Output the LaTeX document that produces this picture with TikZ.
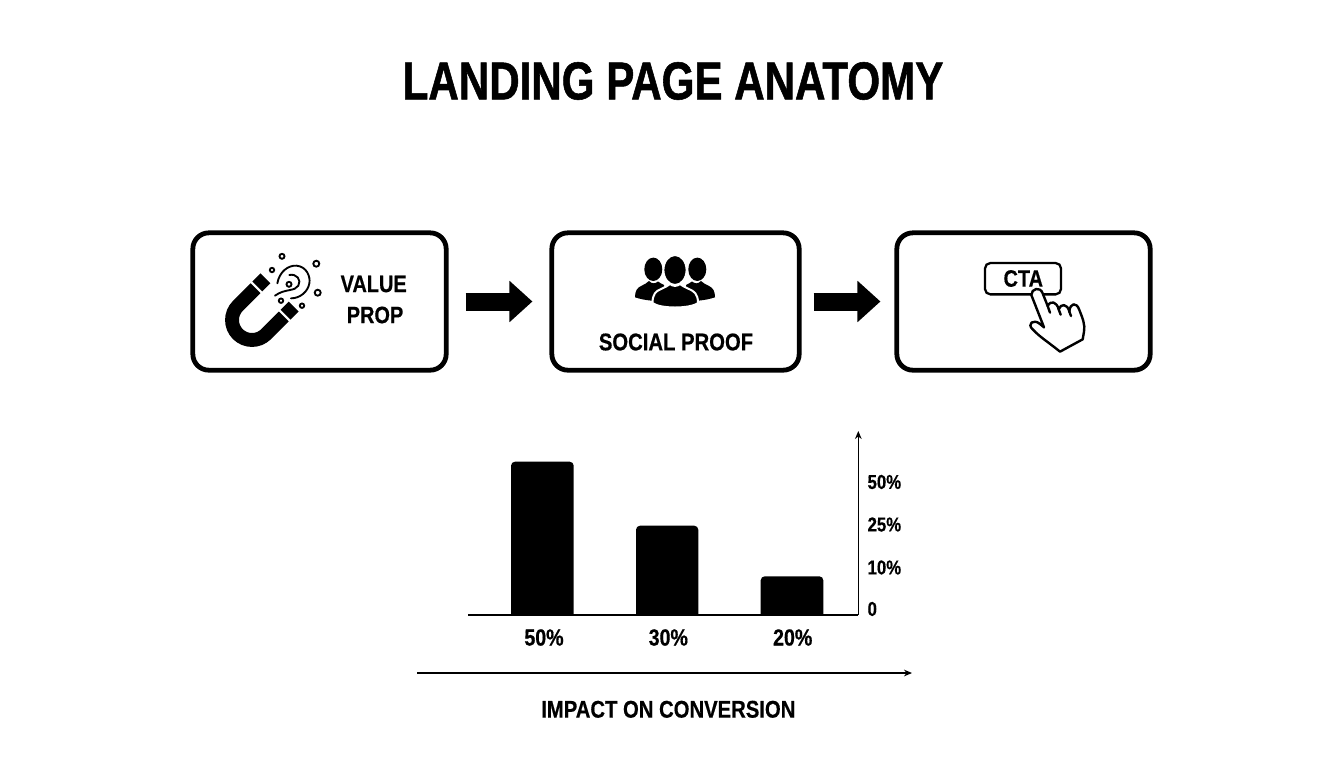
\documentclass[tikz,border=0pt]{standalone}
\usepackage{fontspec}
\setmainfont{Liberation Sans}[FakeStretch=0.84,BoldFeatures={FakeBold=0.5}]
\newfontfamily\titlefont{Liberation Sans Bold}[FakeStretch=0.79,FakeBold=1]
\usetikzlibrary{arrows.meta}
\tikzset{
  panel/.style={draw=black,fill=white,line width=3.6pt,rounded corners=12pt,minimum height=103pt,inner sep=0pt},
  blockarrow/.style={line width=13.5pt,-{Triangle[length=17.25pt,width=30pt]},shorten >=0pt},
  lbl/.style={inner sep=0pt,font=\bfseries\fontsize{17.8}{20}\selectfont},
  widelbl/.style={inner sep=0pt,font=\bfseries\fontsize{18.1}{21}\selectfont},
  ticklbl/.style={inner sep=0pt,anchor=west,font=\bfseries\fontsize{15}{17}\selectfont},
  barlbl/.style={inner sep=0pt,font=\bfseries\fontsize{17.5}{20}\selectfont},
  axisline/.style={line width=1.1pt,-{Stealth[length=6pt,width=5pt]}},
  icon/.style={line width=1.4pt,draw=black},
  dot/.style={line width=1.4pt,draw=black,fill=white},
}
\begin{document}
\begin{tikzpicture}[x=0.75pt,y=-0.75pt]
\useasboundingbox (0,0) rectangle (1344,768);
\fill[white] (0,0) rectangle (1344,768);
% title
\node[inner sep=0pt,font=\titlefont\fontsize{40}{44}\selectfont] (title) at (673,81) {LANDING PAGE ANATOMY};
% panels
\node[panel,minimum width=190pt] (vp) at (319.5,301.5) {};
\node[panel,minimum width=185.5pt] (sp) at (675.5,301.5) {};
\node[panel,minimum width=190pt] (cta) at (1023.5,301.5) {};
% connectors
\draw[blockarrow] ([xshift=12.75pt]vp.east) -- ([xshift=-12.75pt]sp.west);
\draw[blockarrow] ([xshift=9pt]sp.east) -- ([xshift=-10.5pt]cta.west);
% value prop text
\node[lbl] (vpa) at (373.7,284) {VALUE};
\node[lbl] (vpb) at (375,315) {PROP};
% magnet
\begin{scope}[shift={(252,320)},rotate=-45]
  \draw[line width=10.4pt] (-20,-25) -- (-20,0) .. controls (-20,11) and (-11,20) .. (0,20) .. controls (11,20) and (20,11) .. (20,0) -- (20,-25);
  \fill (-27,-39) rectangle (-13,-27.5);
  \fill (13,-39) rectangle (27,-27.5);
\end{scope}
% sparkles
\foreach \x/\y/\r in {282/256.3/2.5,316.3/263.7/3,272/270/2.2,317.7/292.7/3,281/300.7/2.2,302/305.7/2.2,289/284.3/2.5}
  \draw[dot] (\x,\y) circle[radius=\r];
\begin{scope}[shift={(190,225)},x=0.25pt,y=-0.25pt]
  \draw[icon,line cap=round] (262,175) .. controls (268,140) and (295,120) .. (320,122) .. controls (350,125) and (362,155) .. (358,175) .. controls (354,200) and (330,220) .. (303,220);
  \draw[icon,line cap=round] (298,150) .. controls (320,145) and (335,165) .. (325,182) .. controls (315,200) and (285,190) .. (255,212);
\end{scope}
% people
\fill (653.3,269.3) ellipse[x radius=9,y radius=11.7];
\fill (697.3,269.3) ellipse[x radius=9,y radius=11.7];
\fill (635,297.3) .. controls (635,291) and (637,288) .. (641,286) .. controls (645,284) and (647,283) .. (649,281) .. controls (652,284) and (655,284) .. (658,281.5) .. controls (660,283) and (662,284) .. (664,285) -- (664,303) -- (651.7,300.7) .. controls (645,300) and (640,299) .. (635,297.3) -- cycle;
\fill (715,297.3) .. controls (715,291) and (713,288) .. (709,286) .. controls (705,284) and (703,283) .. (701,281) .. controls (698,284) and (695,284) .. (692,281.5) .. controls (690,283) and (688,284) .. (686,285) -- (686,303) -- (698.3,300.7) .. controls (705,300) and (710,299) .. (715,297.3) -- cycle;
\filldraw[draw=white,line width=1.5pt] (652.5,303) .. controls (652.5,294) and (656,291) .. (661,289) .. controls (665,287) and (668,286) .. (670,284) .. controls (673,286.5) and (677,286.5) .. (680,284) .. controls (682,286) and (685,287) .. (689,289) .. controls (694,291) and (698,294) .. (698,303) .. controls (690,309) and (660,309) .. (652.5,303) -- cycle;
\filldraw[draw=white,line width=1.2pt] (675,270) ellipse[x radius=11.4,y radius=14.8];
\node[widelbl] (splbl) at (676,342) {SOCIAL PROOF};
% CTA button
\node[draw=black,line width=1.7pt,rounded corners=4pt,minimum width=57pt,minimum height=23.5pt,inner sep=0pt] (btn) at (1023,278.7) {};
\node[lbl] (ctalbl) at (1023.3,278.5) {CTA};
% hand
\begin{scope}[shift={(960,250)},x=0.25pt,y=-0.25pt]
  \filldraw[fill=white,draw=black,line width=1.8pt,line join=round]
    (214,135) .. controls (214,116) and (240,108) .. (248,130)
    -- (263,168)
    .. controls (272,150) and (290,155) .. (296,178)
    .. controls (302,160) and (322,160) .. (328,185)
    .. controls (330,158) and (350,155) .. (358,180)
    .. controls (368,205) and (376,225) .. (372,245)
    -- (368,268) -- (300,305)
    .. controls (270,280) and (240,262) .. (218,238)
    .. controls (200,222) and (220,205) .. (240,222)
    -- (252,232) -- cycle;
  \draw[line width=1.8pt,line cap=round] (263,168) -- (270,188);
  \draw[line width=1.8pt,line cap=round] (296,178) -- (302,194);
  \draw[line width=1.8pt,line cap=round] (328,185) -- (333,198);
\end{scope}
% chart
\coordinate (xa) at (468.3,615);
\coordinate (or) at (858.3,615);
\coordinate (yt) at (858.3,431);
\coordinate (ia) at (417.3,673);
\coordinate (ib) at (912,673);
\fill (511,615.5) [rounded corners=3pt] -- (511,461.7) -- (573.7,461.7) [sharp corners] -- (573.7,615.5) -- cycle;
\fill (636,615.5) [rounded corners=3pt] -- (636,525.7) -- (698.3,525.7) [sharp corners] -- (698.3,615.5) -- cycle;
\fill (760.7,615.5) [rounded corners=3pt] -- (760.7,576.3) -- (823.3,576.3) [sharp corners] -- (823.3,615.5) -- cycle;
\draw[line width=1.1pt] (xa) -- (or);
\draw[axisline] (or) -- (yt);
\draw[axisline] (ia) -- (ib);
\node[ticklbl] (t50) at (867.3,482) {50\%};
\node[ticklbl] (t25) at (867.3,524.5) {25\%};
\node[ticklbl] (t10) at (867.3,567.5) {10\%};
\node[ticklbl] (t0) at (867.3,609) {0};
\node[barlbl] (b50) at (544,637.5) {50\%};
\node[barlbl] (b30) at (668.3,637.5) {30\%};
\node[barlbl] (b20) at (792.7,637.5) {20\%};
\node[widelbl] (impact) at (668.3,709.3) {IMPACT ON CONVERSION};
\end{tikzpicture}
\end{document}
